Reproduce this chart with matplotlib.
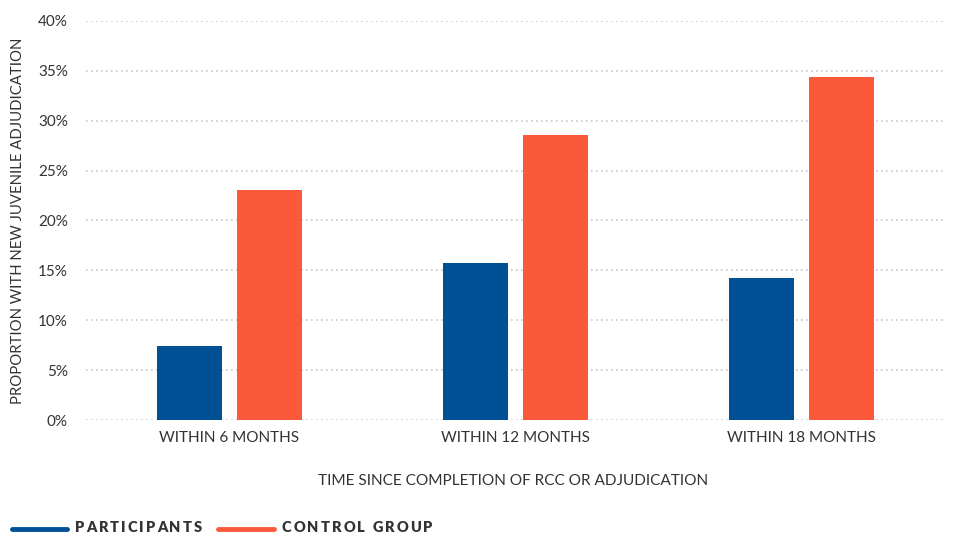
import matplotlib
matplotlib.use("Agg")
import matplotlib.pyplot as plt
import numpy as np
from matplotlib.textpath import TextPath
from matplotlib.font_manager import FontProperties
from matplotlib.lines import Line2D

categories = ["WITHIN 6 MONTHS", "WITHIN 12 MONTHS", "WITHIN 18 MONTHS"]
participants = [7.4, 15.7, 14.2]
control = [23.1, 28.6, 34.4]
yticks = [0, 5, 10, 15, 20, 25, 30, 35, 40]
series_names = ["PARTICIPANTS", "CONTROL GROUP"]

BLUE = "#005096"
ORANGE = "#FA5A3A"
TXT = "#333333"

plt.rcParams['font.family'] = ['Lato', 'DejaVu Sans']

fig = plt.figure(figsize=(9.64, 5.35), dpi=100)
ax = fig.add_axes([86/964, 1-420/535, (945-86)/964, (420-21)/535])

x = np.arange(len(categories))
w = 0.227
ax.bar(x - 0.14, participants, w, color=BLUE, zorder=3)
ax.bar(x + 0.14, control, w, color=ORANGE, zorder=3)

ax.set_xlim(-0.5, 2.5)
ax.set_ylim(0, 40)
ax.set_yticks(yticks)
ax.set_yticklabels([f"{t}%" for t in yticks])
ax.set_xticks(x)
ax.set_xticklabels(categories)
ax.yaxis.grid(True, color="#c8c8c8", linestyle=(0, (1, 2)), linewidth=1.2, zorder=0)
for s in ax.spines.values():
    s.set_visible(False)
ax.tick_params(axis='both', length=0, labelsize=11, labelcolor=TXT)
ax.tick_params(axis='y', pad=13)
ax.tick_params(axis='x', pad=8)

fig.text(513/964, 1-481/535, "TIME SINCE COMPLETION OF RCC OR ADJUDICATION",
         ha='center', va='center', fontsize=11.1, color=TXT)
fig.text(18/964, 1-221/535, "PROPORTION WITH NEW JUVENILE ADJUDICATION",
         ha='center', va='center', rotation=90, fontsize=10.7, color=TXT)

# legend with letter spacing
def spaced_text(x0_px, y_px, s, size, tracking_px):
    fp = FontProperties(family='Lato', weight='heavy', size=size)
    ref = TextPath((0, 0), "H", prop=fp).get_extents().x1
    xpos = x0_px
    for ch in s:
        if ch != ' ':
            fig.text(xpos/964, 1-y_px/535, ch, ha='left', va='center',
                     fontproperties=fp, color=TXT)
        adv = TextPath((0, 0), ch + "H", prop=fp).get_extents().x1 - ref
        xpos += adv * 100/72 + tracking_px
    return xpos

for (x0, x1, c, tx, name) in [(12, 67, BLUE, 75, series_names[0]),
                               (218, 274, ORANGE, 282, series_names[1])]:
    fig.add_artist(Line2D([x0/964, x1/964], [1-529/535, 1-529/535], color=c,
                          linewidth=3.5, solid_capstyle='round', transform=fig.transFigure))
    spaced_text(tx, 528, name, 10.5, 2.0)

fig.savefig("out.png", dpi=100, facecolor="white")
